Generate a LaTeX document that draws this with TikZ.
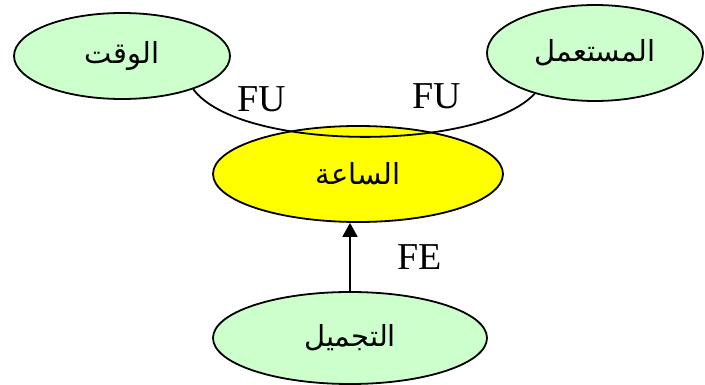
\documentclass[tikz,border=0pt]{standalone}
\usepackage{fontspec}
\setmainfont{Liberation Serif}
\newfontfamily\arabicfont[Script=Arabic]{DejaVu Sans}
\TeXXeTstate=1
\usetikzlibrary{shapes.geometric,arrows.meta}
\definecolor{lightgreen}{HTML}{CCFFCC}
\definecolor{brightyellow}{HTML}{FFFF00}
\tikzset{
  concept/.style={ellipse, draw=black, line width=1.8pt, inner sep=0pt, font=\arabicfont\fontsize{29}{32}\selectfont},
  greenconcept/.style={concept, fill=lightgreen},
  yellowconcept/.style={concept, fill=brightyellow},
  rellabel/.style={inner sep=0pt, font=\fontsize{38}{40}\selectfont},
  link/.style={draw=black, line width=1.8pt},
}
\begin{document}
\begin{tikzpicture}[x=1pt,y=-1pt]
\useasboundingbox (0,0) rectangle (705,385);
\node[greenconcept, minimum width=216pt, minimum height=86pt] (time) at (122,56) {\beginR الوقت\endR};
\node[greenconcept, minimum width=216pt, minimum height=96pt] (user) at (595,53) {\beginR المستعمل\endR};
\node[yellowconcept, minimum width=290pt, minimum height=96pt] (watch) at (358,174) {\beginR الساعة\endR};
\node[greenconcept, minimum width=274pt, minimum height=92pt] (beauty) at (350,338) {\beginR التجميل\endR};
\draw[link] (time.-25) .. controls (240,152) and (480,152) .. (user.214);
\draw[link, -{Triangle[width=15pt,length=14pt]}] (beauty.north) -- (beauty.north |- watch.south);
\node[rellabel] (fu1) at (262,99.5) {FU};
\node[rellabel] (fu2) at (437,96.5) {FU};
\node[rellabel] (fe) at (420,257.5) {FE};
\end{tikzpicture}
\end{document}
